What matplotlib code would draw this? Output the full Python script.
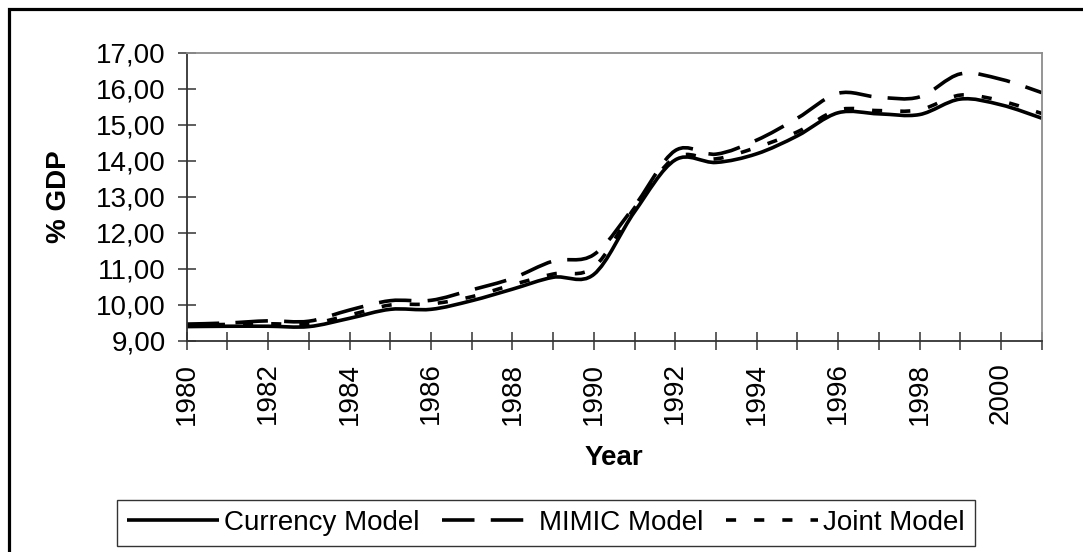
import numpy as np
import matplotlib
matplotlib.use("Agg")
import matplotlib.pyplot as plt
from matplotlib.path import Path
from matplotlib.patches import PathPatch, Rectangle
from matplotlib.lines import Line2D
from matplotlib.ticker import FuncFormatter

plt.rcParams["font.family"] = ["Liberation Sans", "DejaVu Sans"]

# values (% of GDP)
years = list(range(1980, 2002))
currency = [9.40, 9.41, 9.41, 9.40, 9.63, 9.88, 9.88, 10.12, 10.44, 10.77, 10.85,
            12.59, 14.03, 13.96, 14.20, 14.70, 15.34, 15.31, 15.29, 15.72, 15.56, 15.19]
mimic = [9.47, 9.50, 9.56, 9.55, 9.86, 10.12, 10.13, 10.42, 10.74, 11.22, 11.40,
         12.75, 14.29, 14.19, 14.58, 15.19, 15.88, 15.77, 15.78, 16.42, 16.27, 15.90]
joint = [9.44, 9.46, 9.48, 9.47, 9.72, 10.00, 10.03, 10.23, 10.56, 10.86, 11.05,
         12.70, 14.10, 14.06, 14.38, 14.81, 15.42, 15.40, 15.42, 15.83, 15.67, 15.32]
series_names = ["Currency Model", "MIMIC Model", "Joint Model"]
year_labels = [str(y) if (y % 2 == 0 and y < 2001) else "" for y in years]

FS = 20
LW = 2.6
styles = ["-", (0, (9, 4.5)), (0, (2.8, 5))]


def smooth_path(x, y):
    # Excel-like smoothed line: cubic bezier through each data point
    pts = np.column_stack([x, y]).astype(float)
    n = len(pts)
    verts = [pts[0]]
    codes = [Path.MOVETO]
    for i in range(n - 1):
        p0 = pts[max(i - 1, 0)]
        p1 = pts[i]
        p2 = pts[i + 1]
        p3 = pts[min(i + 2, n - 1)]
        verts += [p1 + (p2 - p0) / 6.0, p2 - (p3 - p1) / 6.0, p2]
        codes += [Path.CURVE4] * 3
    return Path(verts, codes)


fig = plt.figure(figsize=(10.83, 5.52), dpi=100)
ax = fig.add_axes([186.7 / 1083, 1 - 341 / 552, (1041.7 - 186.7) / 1083, (341 - 53) / 552])

handles = []
for vals, ls, name in zip([currency, mimic, joint], styles, series_names):
    patch = PathPatch(smooth_path(years, vals), transform=ax.transData, fill=False,
                      edgecolor="black", linewidth=LW, linestyle=ls,
                      capstyle="butt", joinstyle="round")
    ax.add_patch(patch)
    handles.append(Line2D([], [], color="black", linewidth=LW, linestyle=ls,
                          solid_capstyle="butt", dash_capstyle="butt", label=name))

ax.set_xlim(1980, 2001)
ax.set_ylim(9, 17)
ax.set_xticks(years)
ax.set_xticklabels(year_labels, rotation=90, fontsize=FS)
ax.set_yticks(range(9, 18))
ax.yaxis.set_major_formatter(FuncFormatter(lambda v, p: f"{v:.2f}".replace(".", ",")))
ax.tick_params(axis="y", labelsize=FS, direction="inout", length=12.5, width=1.1,
               color="#333333", pad=9)
ax.tick_params(axis="x", direction="inout", length=13, width=1.1, color="#333333", pad=9)

for s in ["left", "bottom"]:
    ax.spines[s].set_color("#333333")
    ax.spines[s].set_linewidth(1.3)
for s in ["top", "right"]:
    ax.spines[s].set_color("#8c8c8c")
    ax.spines[s].set_linewidth(1.3)

ax.set_xlabel("Year", fontsize=FS, fontweight="bold", labelpad=15)
ax.set_ylabel("% GDP", fontsize=FS, fontweight="bold", labelpad=17)

leg = fig.legend(handles=handles, loc="center", ncol=3,
                 bbox_to_anchor=((116 + 976) / 2 / 1083, 1 - 523 / 552),
                 fontsize=FS, frameon=True, fancybox=False, shadow=False,
                 handlelength=3.3, handletextpad=0.2, columnspacing=0.8,
                 borderpad=0.35, borderaxespad=0)
leg.get_frame().set_edgecolor("black")
leg.get_frame().set_linewidth(1.0)

# outer chart frame (only left and top edges fall inside the picture)
fig.patches.append(Rectangle((9 / 1083, -0.2), 1.3, 1.2 - 9 / 552, transform=fig.transFigure,
                             fill=False, edgecolor="black", linewidth=2.3))

fig.savefig("out.png", dpi=100)
